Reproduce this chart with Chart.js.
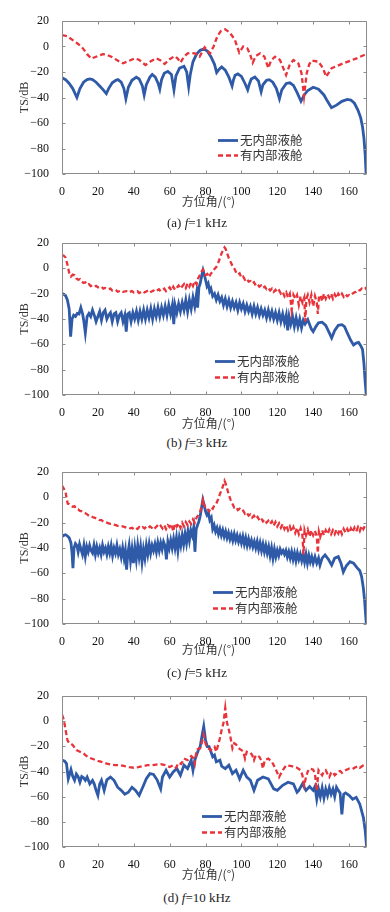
<!DOCTYPE html>
<html lang="zh">
<head>
<meta charset="utf-8">
<title>TS - 方位角</title>
<script src="https://cdn.jsdelivr.net/npm/chart.js@4.4.1/dist/chart.umd.min.js"></script>
<style>
  html, body { margin: 0; padding: 0; background: #fff; }
  body { width: 390px; height: 912px; position: relative; overflow: hidden; }
  canvas { position: absolute; left: 0; }
  .caption { position: absolute; left: 0; width: 394px; text-align: center; font-family: "Liberation Serif", serif; font-size: 13px; line-height: 14px; color: #222; }
</style>
</head>
<body>
<canvas id="chartA"></canvas>
<canvas id="chartB"></canvas>
<canvas id="chartC"></canvas>
<canvas id="chartD"></canvas>
<div class="caption" style="top:216px">(a) <i>f</i>=1 kHz</div>
<div class="caption" style="top:436px">(b) <i>f</i>=3 kHz</div>
<div class="caption" style="top:666px">(c) <i>f</i>=5 kHz</div>
<div class="caption" style="top:891px">(d) <i>f</i>=10 kHz</div>
<script>
// --- 1. DATA (angle in deg, TS in dB) ---
const seriesNames = ['无内部液舱', '有内部液舱'];
const xTicks = [0, 20, 40, 60, 80, 100, 120, 140, 160];
const yTicks = [-100, -80, -60, -40, -20, 0, 20];

// (a) f = 1 kHz
const aBlue = [[0,-24.5],[2,-26],[4,-29],[6,-33],[8.3,-40],[10,-33],[12,-28],[14,-26],[15.5,-25.5],[17,-26],[19,-28],[21,-31],[23,-34],[24.7,-37],[26,-33],[28,-28.5],[30,-26.5],[31.2,-26],[33,-28],[34.5,-33],[35.6,-41],[37,-32],[39,-26.5],[41.4,-24],[43,-25.5],[44.8,-31],[45.8,-38],[47,-30],[49,-24],[50.3,-22],[52,-24],[53.6,-29],[54.5,-33.5],[55.5,-26],[57,-21],[59,-19.5],[61,-22],[62.4,-34],[63.5,-23],[65.5,-17],[68,-15.5],[69.5,-20],[70.6,-31.5],[71.5,-22],[73,-12],[75,-6],[77,-3],[79,-2],[81,-3.5],[83,-8],[85,-14],[86.2,-20.5],[87.5,-18],[89,-16],[91,-18.5],[93,-24],[94.8,-31],[95.6,-26],[96.5,-22.5],[98,-21.5],[100,-23.5],[102,-29],[103.5,-34],[104.3,-30],[105.5,-25.5],[107.5,-24],[109.5,-27],[111,-35.5],[112,-30],[114,-26.5],[115.5,-26],[117.5,-28],[119.5,-33],[121.2,-41],[122.5,-34],[125,-29],[127,-28.5],[129,-30.5],[131,-36],[133.2,-43],[135,-38],[137,-34.5],[140,-32],[143,-33.5],[146,-38],[148,-43],[150.2,-48],[153,-46],[156,-43],[159,-41.5],[161,-42],[163,-44.5],[165,-50],[166.5,-56],[167.5,-63],[168.3,-72],[169,-85],[169.5,-100]];
const aRed = [[0,9],[3,8],[6,5],[9,2],[11.7,-1.5],[14,-6],[16.3,-9.5],[19,-8],[22.8,-6],[25,-6.5],[27.5,-8],[31,-11],[34,-13.2],[37,-11.5],[40.5,-9.3],[43,-10.5],[46.5,-14.5],[49.5,-11.5],[52.6,-9.3],[55,-11],[57.2,-13.7],[60,-10],[62.8,-7.5],[64.5,-9.5],[66,-12.7],[68,-8],[70,-5.4],[72,-5],[74,-5.4],[76.7,-8],[79.5,-0.6],[81,-3],[82.5,-5.5],[84.5,0],[86.6,8],[88.5,12],[90.9,13.5],[93,11.5],[95,8],[96.4,5],[98.8,-4.8],[101,0],[103.3,-1.4],[104.8,-6],[106.3,-12.7],[108,-7.5],[110.4,-5.4],[112.8,-8],[115,-17],[116.5,-11],[118.7,-8],[121.5,-10.6],[124.9,-22.4],[127,-14],[129,-10.6],[131.7,-13.2],[133.5,-21],[134.9,-39],[136.4,-21],[137.8,-14],[139.2,-11],[142.9,-11.9],[145.5,-17],[147.2,-23.7],[150.3,-17],[156.8,-13.2],[164.2,-9.3],[169.5,-6]];

// (b) f = 3 kHz
const bBlue = [[0,-20],[1,-20.5],[2,-21.6],[3,-25],[4,-32],[4.8,-54],[5.6,-40],[6.5,-37],[7.5,-38],[8.5,-35.6],[9.5,-36],[10.5,-31],[11.5,-36],[12.2,-42],[13,-51],[14,-38],[15,-35.6],[16,-38],[17,-33],[18,-37],[19,-42],[20,-38],[21,-34],[22,-41],[23,-35],[24,-33],[25,-40],[26,-37],[27,-35],[28,-42],[29,-36],[30,-35],[31,-42],[32,-37],[33,-35],[34,-42],[35,-37],[35.8,-50],[36.6,-36],[37.5,-35],[38.5,-42],[39.5,-35],[40.5,-40],[41.5,-34],[42.5,-41],[43.5,-34],[44.5,-40],[45.5,-33],[46.5,-40],[47.5,-33],[48.5,-39],[49.5,-32],[50.5,-40],[51.5,-32],[52.5,-38],[53.5,-31],[54.5,-38],[55.5,-31],[56.5,-37],[57.5,-30],[58.5,-37],[59.5,-29],[60.5,-36],[61.5,-29],[62.3,-44],[63,-29],[64,-35],[65,-28],[66,-34],[67,-27],[68,-33],[69,-25],[70,-34],[71,-25],[72,-32],[73,-23],[74,-30],[75,-20],[75.6,-31],[76.3,-15],[77,-12],[78,-5],[78.6,-1.5],[79.3,-5],[80,-9],[80.8,-14],[81.5,-12],[82.3,-18],[83,-16],[84,-22],[85,-20],[86,-25],[87,-21],[88,-26],[89,-23],[90,-29],[91,-24],[92,-30],[93,-25],[94,-31],[95,-26],[96,-31],[97,-27],[98,-33],[99,-27],[100,-32],[101,-28],[102,-34],[103,-29],[104,-34],[105,-30],[106,-36],[107,-30],[108,-36],[109,-31],[110,-37],[111,-32],[112,-37],[113,-33],[114,-39],[115,-33],[116,-39],[117,-34],[118,-40],[119,-35],[120,-41],[121,-35],[122,-42],[123,-36],[124,-43],[125,-37],[125.8,-49],[126.6,-38],[127.5,-44],[128.5,-38],[129.5,-46],[130.5,-39],[131.5,-46],[132.5,-40],[133.5,-47],[134.5,-41],[135.5,-44],[137,-40.5],[139,-48],[140,-50],[141.5,-46],[143,-43],[145,-42.5],[147,-45],[149,-51],[150.3,-55],[152,-49],[154,-45],[156,-44.5],[157.5,-46],[159,-51],[161,-57],[162.5,-60.5],[164,-59],[165.3,-58.5],[166.5,-61],[167.5,-64],[168.3,-75],[169,-90],[169.6,-100]];
const bRed = [[0,10.5],[1,10],[2,8.5],[3,3],[4,-3.5],[5,-6.5],[6,-5],[7,-5.5],[8,-8],[9,-9],[10,-8.5],[11,-10.5],[12,-11.5],[13,-11],[14,-13],[15,-12.5],[16,-14],[17,-13.5],[18,-14.5],[19,-13.8],[20,-15],[22,-14.5],[23,-16],[24,-15.5],[26,-16.5],[27,-16],[28,-17.5],[30,-17],[31,-18.5],[33,-17.5],[34,-18.5],[36,-18],[37,-19],[39,-18],[40,-19],[42,-18],[43,-19.5],[45,-18],[46,-19],[48,-17.5],[49,-19],[51,-17.5],[52,-18.5],[54,-16.5],[55,-18],[57,-16],[58,-18],[60,-15],[61,-17.5],[62,-14.5],[63,-17],[65,-13.5],[66,-16],[68,-12.5],[69,-15.5],[70,-12],[71,-14.5],[72,-11],[73,-14],[74,-10],[75,-12.5],[76,-7.5],[77,-5],[78,-2],[78.6,-1],[79.3,-3],[80,-5.5],[81,-4.5],[82,-7],[83,-4],[84,-3],[85,-0.5],[86,1],[87,4],[88,8],[89,12],[90,15],[90.6,16.5],[91.3,15],[92,12],[93,8],[94,5],[95,2],[96,0],[97,-3],[98,-5],[99,-4],[100,-7.5],[101,-6.5],[102,-9],[103,-8],[104,-10.5],[105,-10],[106,-12],[107,-11],[108,-13.5],[109,-12.5],[110,-14.5],[111,-13.5],[112,-15.5],[113,-14.5],[114,-16.5],[115,-15.5],[116,-17.5],[117,-16],[118,-18.5],[119,-17],[120,-19],[121,-17.5],[122,-20],[123,-18.5],[124,-22],[125,-19],[126,-23],[127,-20],[128,-33],[129,-21],[130,-24],[131,-21],[132,-29],[133,-22],[134,-27],[135,-23],[135.6,-42],[136.2,-24],[137,-21],[138,-27],[139,-21],[140,-30],[141,-22],[142,-27],[142.6,-36],[143.2,-23],[144,-21],[145,-26],[146,-20],[147,-24],[148,-20.5],[149,-23],[150,-20],[151,-24],[152,-20.5],[153,-23.5],[154,-20],[155,-22],[156,-20],[157,-22.5],[158,-20.5],[159,-22],[160,-21],[161,-21.5],[162,-20],[163,-19],[164,-18.5],[165,-17],[166,-17.5],[167,-16],[168,-16.5],[169,-15.5],[170,-17]];

// (c) f = 5 kHz
const cBlue = [[0,-31],[1,-30],[2,-29.5],[3,-30.5],[4,-32],[5,-36],[5.6,-44],[6.1,-56],[6.7,-40],[7.5,-36.5],[8.3,-38],[9,-43],[9.8,-37],[10.6,-41],[11.4,-45],[12.2,-38],[13,-46.5],[13.8,-39],[14.6,-43],[15.4,-38],[16.2,-42],[17,-44],[17.8,-38],[18.6,-45],[19.4,-39],[20.2,-44],[21,-40],[21.8,-45],[22.6,-38],[23.4,-43],[24.2,-40],[25,-45],[25.8,-39],[26.6,-44],[27.4,-38],[28.2,-46],[29,-40],[29.8,-44],[30.6,-38],[31.4,-45],[32.2,-41],[33,-47],[33.8,-40],[34.6,-48],[35.3,-42],[36,-57],[36.7,-44],[37.4,-38],[38.2,-50],[39,-41],[39.8,-52],[40.6,-40],[41.4,-49],[42.2,-38],[43,-47],[43.8,-39],[44.6,-51],[45.4,-41],[46.2,-48],[47,-38],[47.8,-45],[48.6,-37],[49.4,-44],[50.2,-38],[51,-42],[51.8,-37],[52.6,-43],[53.4,-36],[54.2,-42],[55,-36],[55.8,-41],[56.6,-35],[57.4,-38],[58.2,-49],[59,-35],[59.8,-40],[60.6,-34],[61.4,-40],[62.2,-33],[63,-40],[63.8,-32],[64.6,-42],[65.4,-32],[66.2,-38],[67,-30],[67.8,-37],[68.6,-29],[69.4,-36],[70.2,-27],[71,-34],[71.8,-26],[72.6,-30],[73.4,-24],[74.1,-43],[74.8,-25],[75.5,-22],[76.3,-19],[77,-15],[77.8,-8],[78.5,-2],[79.2,-6],[80,-11],[80.8,-14],[81.6,-12],[82.4,-18],[83.2,-16],[84,-25],[84.8,-22],[85.6,-27],[86.4,-24],[87.2,-29],[88,-25],[88.8,-30],[89.6,-26],[90.4,-31],[91.2,-27],[92,-32],[92.8,-28],[93.6,-33],[94.4,-29],[95.2,-34],[96,-29],[96.8,-34],[97.6,-30],[98.4,-35],[99.2,-31],[100,-36],[100.8,-31],[101.6,-37],[102.4,-32],[103.2,-38],[104,-33],[104.8,-38],[105.6,-34],[106.4,-39],[107.2,-35],[108,-40],[108.8,-35],[109.6,-41],[110.4,-36],[111.2,-42],[112,-37],[112.8,-43],[113.6,-38],[114.4,-44],[115.2,-39],[116,-46],[116.8,-40],[117.6,-48],[118.4,-41],[119.2,-47],[120,-42],[120.8,-46],[121.6,-41],[122.4,-44],[123.2,-42],[124,-45],[124.8,-42],[125.6,-47],[126.4,-43],[127.2,-48],[128,-43],[128.8,-49],[129.6,-44],[130.4,-50],[131.2,-44],[132,-49],[132.8,-45],[133.6,-50],[134.4,-45],[135.2,-51],[136,-45],[136.8,-52],[137.6,-46],[138.4,-51],[139.2,-47],[140,-52],[141,-47],[142,-52],[143,-48],[143.8,-53.5],[145,-48],[146.6,-45.5],[148.5,-49],[150.3,-53.5],[152,-48],[154,-46.8],[155.5,-52],[156.8,-59],[158.5,-54],[160.5,-50.8],[162.5,-52],[164.3,-55.3],[166,-58],[167,-62.6],[168,-72],[168.7,-82],[169.3,-94],[169.6,-100]];
const cRed = [[0,9.3],[1,7],[2,4],[2.6,-1],[3.2,-5],[4,-5.5],[5,-6.7],[6,-7.5],[7,-7],[8,-9.3],[9,-9.5],[10,-10.7],[11,-11],[12,-12],[13,-12.5],[14,-13.5],[15,-14.5],[16,-14.5],[17,-15.5],[18,-16],[19,-16.5],[20,-17],[21,-18],[22,-18],[23,-19],[24,-19.5],[25,-20],[26,-20.5],[27,-21],[28,-21],[29,-21.5],[30,-22],[31,-22.5],[32,-22.5],[33,-23],[34,-23],[35,-23.5],[36,-24],[37,-24],[38,-24.5],[39,-24],[40,-25],[41,-24],[42,-25],[43,-23.5],[44,-24.5],[45,-23.5],[46,-24.5],[47,-23],[48,-24],[49,-23],[50,-24],[51,-22.5],[52,-24],[53,-22.5],[54,-24],[55,-22.5],[56,-24.5],[57,-22],[58,-25],[59,-22],[60,-23.5],[61,-21],[62,-27],[63,-20.5],[64,-23],[65,-20.5],[66,-24],[67,-20],[68,-23],[69,-19.5],[70,-22],[71,-19],[72,-21],[73,-17.5],[74,-20],[75,-16],[76,-14],[77,-11.5],[78,-6],[78.6,-2],[79.3,-6],[80,-9],[81,-9],[82,-11],[83,-8],[84,-9],[85,-6],[86,-5],[87,-1.5],[88,2.5],[89,6],[90,10],[90.6,13],[91.2,11],[92,7],[93,2],[94,-2],[95,-5],[96,-8],[97,-7.5],[98,-10],[99,-9],[100,-11],[101,-10.5],[102,-13],[103,-12],[104,-14.5],[105,-13.5],[106,-16],[107,-14.5],[108,-17],[109,-15.5],[110,-18],[111,-16.5],[112,-19],[113,-17.5],[114,-20],[115,-18.5],[116,-21],[117,-19],[118,-22.5],[119,-19.5],[120,-23],[121,-20.5],[122,-24],[123,-21],[124,-25],[125,-22],[126,-26],[127,-23],[128,-27],[129,-23.5],[130,-28],[131,-24],[132,-29],[133,-24.5],[134,-30],[134.6,-45],[135.2,-26],[136,-30],[137,-25.5],[138,-31],[139,-26],[140,-30],[141,-26.5],[142,-31],[142.6,-44],[143.2,-27],[144,-31],[145,-26],[146,-30],[147,-26],[148,-29],[149,-25.5],[150,-29],[151,-26],[152,-29],[153,-25.5],[154,-28.5],[155,-25],[156,-29],[157,-25],[158,-28],[159,-25],[160,-28],[161,-24.5],[162,-27.5],[163,-24],[164,-27],[165,-23.5],[166,-26.5],[167,-22.5],[168,-25],[169,-22],[170,-23]];

// (d) f = 10 kHz
const dBlue = [[0,-31],[1.5,-31.8],[2.5,-33.7],[3.5,-45.8],[5,-38.5],[6,-44],[7,-47],[8,-42],[9,-44],[10,-48.5],[11,-44],[12,-45],[13,-47],[14,-44.4],[15.5,-49.8],[17,-47],[18,-50],[19,-55],[20,-59],[21,-50],[22,-47],[23.5,-55],[25,-46.6],[27,-44.4],[29,-47],[31,-52.5],[33,-55],[35,-58],[37,-56.5],[39,-52.5],[41,-55],[43,-59],[45,-52.5],[47,-45.8],[49,-41.7],[51,-42.3],[53,-46.6],[55,-53.8],[56,-44.4],[58,-39],[60,-44.4],[62,-40.4],[64,-37.7],[66,-43],[68,-35],[70,-37.7],[72,-31],[73,-39],[74,-31],[75,-27],[76,-23],[77,-20.3],[78,-12],[79,-4.2],[80,-15],[81,-20.3],[82,-20.3],[83,-24.3],[84,-28.3],[85,-27],[86,-32.3],[88,-31],[89,-35.8],[91,-37.7],[93,-35],[95,-41.7],[97,-39],[99,-45.8],[101,-39],[103,-44.4],[105,-47],[107,-55],[109,-47],[112,-44.4],[115,-45.8],[118,-53.8],[120,-55],[123,-51],[126,-48.5],[129,-49.8],[131,-56.5],[132,-55],[134,-49.8],[136,-55],[138,-52],[140,-55],[141,-52],[142,-62],[143,-54],[144,-60],[145,-53],[146,-61],[147,-54],[148,-59],[149,-53],[150,-58],[151,-54],[152,-60],[153,-52.5],[154,-55],[155,-57],[156,-74],[157,-58],[158,-57],[160,-59],[162,-62],[164,-60.5],[166,-66],[168,-76.6],[169,-87],[169.8,-100]];
const dRed = [[0,5.2],[1,1.2],[2,-6.8],[3,-15],[4,-17.6],[5,-18],[6,-19],[7,-21],[8,-23],[10,-24.3],[12,-25.6],[13.5,-27.5],[15,-28.9],[18,-30.5],[20,-31.5],[22.5,-32.5],[25,-33.7],[27.5,-34.5],[30,-35],[32.5,-35],[35,-35.8],[37.5,-36.5],[40,-37],[42.5,-36.5],[45,-35.8],[47.5,-35],[50,-35],[52.5,-34.5],[55,-34.2],[57.5,-35],[60,-36.4],[62,-35],[63.5,-37],[65,-33],[66.5,-34],[68,-29.7],[70,-31],[72,-27.8],[73,-29],[74,-33.7],[75,-23],[76,-22],[77,-21.6],[78,-17],[79,-10.9],[80,-17.6],[81,-21.6],[82,-22],[83,-23],[84,-21],[85,-20.3],[86,-24.3],[87,-19],[88,-13.6],[89,-6.8],[90,-1.5],[91,10.6],[92,-1.5],[93,-6.8],[94,-13.6],[95,-21.6],[96,-17.6],[97,-18.5],[98,-20.3],[99,-22],[100,-23],[101,-24],[102,-29.7],[103,-24.3],[105,-25],[106,-27],[107,-31],[108,-27],[110,-28.3],[111,-31],[112,-37.7],[113,-31],[115,-29.7],[117,-32.3],[119,-37.7],[121,-44.4],[123,-39],[125,-35],[128,-35.8],[131,-37],[133,-39],[134,-43],[135,-51],[136,-44.4],[137,-40],[138,-37.7],[140,-38.5],[141,-42],[142,-55],[143,-39],[144,-41],[145,-43],[146,-40],[147,-39],[148,-42],[149,-44.4],[150,-41],[151,-40.4],[152,-43],[153,-41.7],[154,-40],[155,-39.6],[156,-41],[158,-39],[160,-37.7],[162,-38],[163,-37],[165,-35.8],[166,-37],[168,-35],[170,-33.7]];

// --- 2. PANEL LAYOUT (page pixels) ---
const panels = [
  { id: 'chartA', top: 0,   areaTop: 21,  areaBottom: 174, titleY: 202, legX: 218, legRows: [-34, -19], blue: aBlue, red: aRed },
  { id: 'chartB', top: 222, areaTop: 243, areaBottom: 395, titleY: 424, legX: 215, legRows: [-34, -18], blue: bBlue, red: bRed },
  { id: 'chartC', top: 451, areaTop: 472, areaBottom: 624, titleY: 650, legX: 213, legRows: [-32, -16], blue: cBlue, red: cRed },
  { id: 'chartD', top: 675, areaTop: 696, areaBottom: 847, titleY: 875, legX: 202, legRows: [-31, -15], blue: dBlue, red: dRed }
];

const BLUE = '#2f5aa8';
const RED = '#e8333a';
const FRAME = '#8c8c8c';

const toXY = arr => arr.map(([x, y]) => ({ x, y }));
const fmtTick = v => (v < 0 ? '\u2212' + Math.abs(v) : String(v));

// --- 3. PLUGINS: MATLAB-like box with inward ticks, inner legend ---
const boxPlugin = {
  id: 'matlabBox',
  afterDatasetsDraw(chart) {
    const { ctx, chartArea: a, scales: { x, y } } = chart;
    const L = Math.round(a.left) + 0.5, R = Math.round(a.right) - 0.5;
    const T = Math.round(a.top) + 0.5, B = Math.round(a.bottom) - 0.5;
    ctx.save();
    ctx.strokeStyle = FRAME;
    ctx.lineWidth = 1;
    ctx.beginPath();
    ctx.rect(L, T, R - L, B - T);
    x.ticks.forEach(t => {
      const px = Math.round(x.getPixelForValue(t.value)) + 0.5;
      ctx.moveTo(px, B); ctx.lineTo(px, B - 3);
      ctx.moveTo(px, T); ctx.lineTo(px, T + 3);
    });
    y.ticks.forEach(t => {
      const py = Math.round(y.getPixelForValue(t.value)) + 0.5;
      ctx.moveTo(L, py); ctx.lineTo(L + 3, py);
      ctx.moveTo(R, py); ctx.lineTo(R - 3, py);
    });
    ctx.stroke();
    ctx.restore();
  }
};

const innerLegend = {
  id: 'innerLegend',
  afterDraw(chart, args, opts) {
    const { ctx, chartArea: a } = chart;
    ctx.save();
    ctx.font = '12.5px "Noto Sans CJK SC", sans-serif';
    ctx.textBaseline = 'middle';
    ctx.fillStyle = '#333';
    chart.data.datasets.forEach((ds, i) => {
      const y = Math.round(a.bottom + opts.rows[i]) + 0.5;
      ctx.strokeStyle = ds.borderColor;
      ctx.lineWidth = ds.borderWidth;
      ctx.setLineDash(ds.borderDash || []);
      ctx.beginPath();
      ctx.moveTo(opts.x, y);
      ctx.lineTo(opts.x + 20, y);
      ctx.stroke();
      ctx.fillText(ds.label, opts.x + 22, y);
    });
    ctx.restore();
  }
};

// --- 4. BUILD CHARTS ---
panels.forEach(p => {
  const canvas = document.getElementById(p.id);
  const H = Math.round(p.titleY + 7.2 - p.top);
  const xH = H - (p.areaBottom - p.top);
  canvas.width = 390;
  canvas.height = H;
  canvas.style.top = p.top + 'px';

  new Chart(canvas.getContext('2d'), {
    type: 'line',
    data: {
      datasets: [
        { label: seriesNames[0], data: toXY(p.blue), borderColor: BLUE, borderWidth: 2.8, pointRadius: 0, tension: 0, order: 1 },
        { label: seriesNames[1], data: toXY(p.red), borderColor: RED, borderWidth: 2.3, borderDash: [5, 3], pointRadius: 0, tension: 0, order: 0 }
      ]
    },
    options: {
      responsive: false,
      animation: false,
      devicePixelRatio: 1,
      layout: { autoPadding: false, padding: { left: 18, right: 23, top: p.areaTop - p.top, bottom: 0 } },
      plugins: {
        legend: { display: false },
        tooltip: { enabled: false },
        innerLegend: { x: p.legX, rows: p.legRows }
      },
      scales: {
        x: {
          type: 'linear', min: 0, max: 170,
          afterBuildTicks: s => { s.ticks = xTicks.map(v => ({ value: v })); },
          afterFit: s => { s.height = xH; },
          grid: { display: false }, border: { display: false },
          ticks: { padding: 3, maxRotation: 0, autoSkip: false, color: '#111', font: { family: 'Liberation Serif', size: 12 }, callback: fmtTick },
          title: { display: true, text: '方位角/(°)\u2003', color: '#333', padding: 0, font: { family: 'Noto Sans CJK SC', size: 12 } }
        },
        y: {
          min: -100, max: 20,
          afterBuildTicks: s => { s.ticks = yTicks.map(v => ({ value: v })); },
          afterFit: s => { s.width = 44; },
          grid: { display: false }, border: { display: false },
          ticks: { padding: 5, autoSkip: false, color: '#111', font: { family: 'Liberation Serif', size: 12 }, callback: fmtTick },
          title: { display: true, text: 'TS/dB', color: '#333', padding: 0, font: { family: 'Liberation Serif', size: 12 } }
        }
      }
    },
    plugins: [boxPlugin, innerLegend]
  });
});
</script>
</body>
</html>
